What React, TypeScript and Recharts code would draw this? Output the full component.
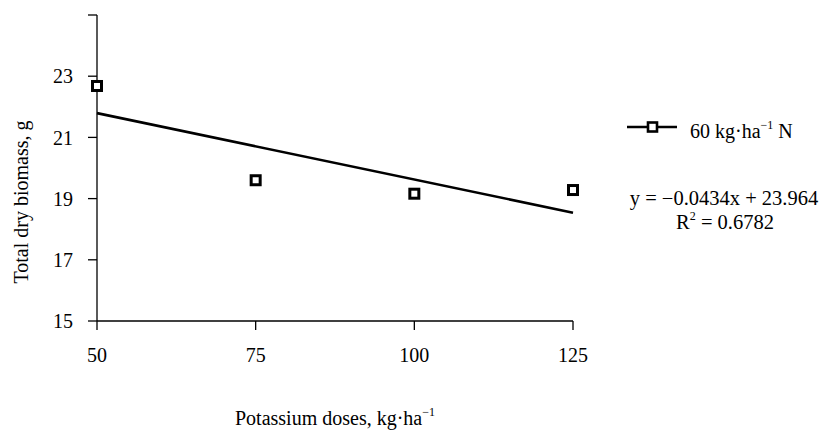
import React from 'react';
import { ComposedChart, XAxis, YAxis, Line, Scatter, Legend, Label } from 'recharts';

const doses = [50, 75, 100, 125];
const biomass = [22.68, 19.6, 19.16, 19.28];
const trendX = [50, 125];
const trendY = [21.794, 18.539];
const xTicks = [50, 75, 100, 125];
const yTicks = [15, 17, 19, 21, 23, 25];
const seriesName = '60 kg·ha';
const equation = 'y = −0.0434x + 23.964';
const r2Value = ' = 0.6782';

const points = doses.map((x, i) => ({ x, y: biomass[i] }));
const trend = trendX.map((x, i) => ({ x, y: trendY[i] }));

const FONT = '"Liberation Serif", serif';
const fontStyle = { fontFamily: FONT };

const Square = (props: any) => {
  const { cx, cy } = props;
  return <rect x={cx - 4.5} y={cy - 4.5} width={9} height={9} fill="#fff" stroke="#000" strokeWidth={3} />;
};

const renderLegend = () => (
  <svg width={206} height={140} style={{ fontFamily: FONT, overflow: 'visible' }}>
    <line x1={7} y1={27} x2={57} y2={27} stroke="#000" strokeWidth={2.6} />
    <rect x={28} y={22.5} width={9} height={9} fill="#fff" stroke="#000" strokeWidth={2.6} />
    <text x={70} y={38} fontSize={20} fill="#000" fontFamily={FONT} style={fontStyle}>
      {seriesName}
      <tspan fontSize={12} dy={-9}>−1</tspan>
      <tspan fontSize={20} dy={9}> N</tspan>
    </text>
    <text x={104} y={105} fontSize={20.5} fill="#000" textAnchor="middle" fontFamily={FONT} style={fontStyle}>{equation}</text>
    <text x={105} y={129} fontSize={20.5} fill="#000" textAnchor="middle" fontFamily={FONT} style={fontStyle}>
      R<tspan fontSize={12} dy={-9}>2</tspan>
      <tspan fontSize={20.5} dy={9}>{r2Value}</tspan>
    </text>
  </svg>
);

export default function App() {
  return (
    <div style={{ position: 'absolute', left: 0, top: 0, background: '#fff', fontFamily: FONT }}>
      <ComposedChart width={826} height={432} margin={{ top: 15, right: 253, bottom: 0, left: 37 }} style={fontStyle}>
        <XAxis
          type="number"
          dataKey="x"
          domain={[50, 125]}
          ticks={xTicks}
          height={111}
          tickSize={9}
          tickMargin={18}
          axisLine={{ stroke: '#000', strokeWidth: 1.3 }}
          tickLine={{ stroke: '#000', strokeWidth: 1.3 }}
          tick={{ fill: '#000', fontSize: 20, fontFamily: FONT, style: fontStyle }}
        >
          <Label
            content={(p: any) => {
              const vb = p.viewBox;
              return (
                <text x={vb.x + vb.width / 2} y={vb.y + 104} textAnchor="middle" fontSize={20} fontFamily={FONT} style={fontStyle} fill="#000">
                  Potassium doses, kg·ha<tspan fontSize={12} dy={-9}>−1</tspan>
                </text>
              );
            }}
          />
        </XAxis>
        <YAxis
          type="number"
          domain={[15, 25]}
          ticks={yTicks}
          width={60}
          tickSize={9}
          tickMargin={15}
          axisLine={{ stroke: '#000', strokeWidth: 1.3 }}
          tickLine={{ stroke: '#000', strokeWidth: 1.3 }}
          tick={{ fill: '#000', fontSize: 20, fontFamily: FONT, style: fontStyle }}
          tickFormatter={(v: number) => (v === 25 ? '' : String(v))}
        >
          <Label
            content={() => (
              <text x={28} y={202} transform="rotate(-90, 28, 202)" textAnchor="middle" fontSize={20} fontFamily={FONT} style={fontStyle} fill="#000">
                Total dry biomass, g
              </text>
            )}
          />
        </YAxis>
        <Legend
          layout="vertical"
          align="center"
          verticalAlign="middle"
          content={renderLegend}
          wrapperStyle={{ position: 'absolute', left: 620, top: 100, width: 206, height: 140 }}
        />
        <Line
          data={trend}
          dataKey="y"
          type="linear"
          stroke="#000"
          strokeWidth={2.6}
          dot={false}
          activeDot={false}
          isAnimationActive={false}
          legendType="none"
        />
        <Scatter
          data={points}
          dataKey="y"
          shape={<Square />}
          isAnimationActive={false}
          legendType="none"
        />
      </ComposedChart>
    </div>
  );
}
